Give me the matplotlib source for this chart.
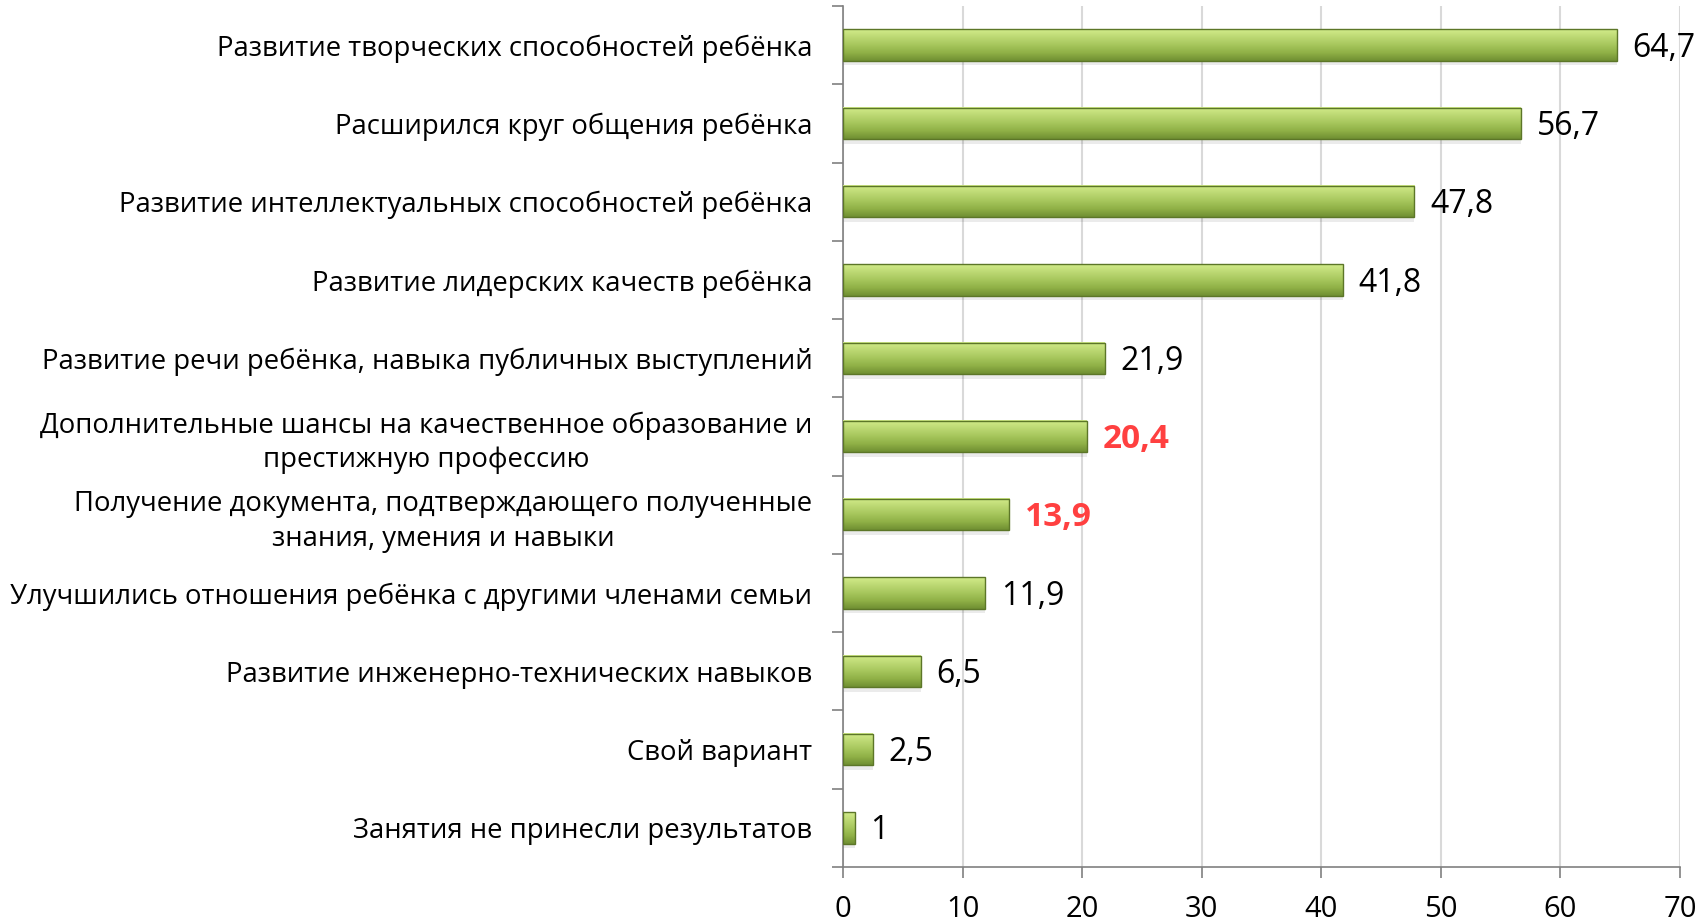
import matplotlib
matplotlib.use("Agg")
import matplotlib.pyplot as plt
import numpy as np
from matplotlib.colors import LinearSegmentedColormap

categories = [
    "Развитие творческих способностей ребёнка",
    "Расширился круг общения ребёнка",
    "Развитие интеллектуальных способностей ребёнка",
    "Развитие лидерских качеств ребёнка",
    "Развитие речи ребёнка, навыка публичных выступлений",
    "Дополнительные шансы на качественное образование и\nпрестижную профессию",
    "Получение документа, подтверждающего полученные\nзнания, умения и навыки",
    "Улучшились отношения ребёнка с другими членами семьи",
    "Развитие инженерно-технических навыков",
    "Свой вариант",
    "Занятия не принесли результатов",
]
values = [64.7, 56.7, 47.8, 41.8, 21.9, 20.4, 13.9, 11.9, 6.5, 2.5, 1.0]
highlight = [False, False, False, False, False, True, True, False, False, False, False]
xticks = [0, 10, 20, 30, 40, 50, 60, 70]

plt.rcParams["font.family"] = ["Open Sans", "DejaVu Sans"]

fig = plt.figure(figsize=(17.05, 9.24), dpi=100)
ax = fig.add_axes([0.4944, 0.0617, 0.4909, 0.9318])

n = len(categories)
y = np.arange(n)[::-1]
bar_h = 0.4

# vertical shading for the bars: light top, darker bottom edge
green = LinearSegmentedColormap.from_list(
    "bar", ["#6f8f32", "#8fb046", "#a6c65c", "#bcd873", "#d2ec8a"])
grad = np.linspace(0, 1, 64).reshape(-1, 1)

for yi, v in zip(y, values):
    ax.imshow(grad, cmap=green, aspect="auto", origin="lower",
              extent=(0, v, yi - bar_h / 2, yi + bar_h / 2), zorder=3)
    ax.barh(yi, v, height=bar_h, facecolor="none", edgecolor="#5c7628",
            linewidth=1.0, zorder=4)
    # soft shadow under the bar
    ax.barh(yi - bar_h / 2 - 0.03, v, height=0.06, color="#000000",
            alpha=0.08, linewidth=0, zorder=2)

for yi, v, hl in zip(y, values, highlight):
    label = f"{v:g}".replace(".", ",")
    if hl:
        ax.text(v + 1.3, yi - 0.04, label, va="center", ha="left",
                fontsize=24, color="#ff4040", fontweight="bold", zorder=5)
    else:
        ax.text(v + 1.3, yi - 0.04, label, va="center", ha="left",
                fontsize=23, color="black", zorder=5)

ax.set_xlim(0, 70)
ax.set_ylim(-0.5, n - 0.5)
ax.set_xticks(xticks)
ax.set_xticklabels([str(t) for t in xticks], fontsize=21)
ax.set_yticks(y)
ax.set_yticklabels(categories, fontsize=19.8, linespacing=1.3,
                   multialignment="center")
ax.tick_params(axis="y", length=0, pad=22)
ax.set_yticks(np.arange(n + 1) - 0.5, minor=True)
ax.tick_params(axis="y", which="minor", length=8, color="#808080", width=1.2)
ax.tick_params(axis="x", length=8, color="#808080", width=1.2, pad=12)

ax.xaxis.grid(True, color="#d9d9d9", linewidth=1.5, zorder=0)
ax.set_axisbelow(True)
for s in ["top", "right"]:
    ax.spines[s].set_visible(False)
for s in ["left", "bottom"]:
    ax.spines[s].set_color("#808080")
    ax.spines[s].set_linewidth(1.2)

fig.savefig("out.png", dpi=100)
